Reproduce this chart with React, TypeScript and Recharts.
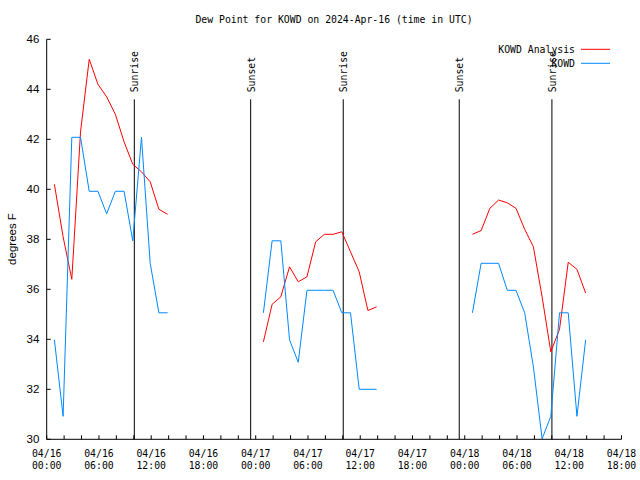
import React from 'react';
import { LineChart, Line, XAxis, YAxis, ReferenceLine, Legend } from 'recharts';

// observations come in at :53 past each hour (hours since 04/16 00:00 UTC)
const OBS_MINUTE = 53;

const hours1 = [0, 1, 2, 3, 4, 5, 6, 7, 8, 9, 10, 11, 12, 13];
const analysis1 = [40.2, 38.1, 36.4, 42.3, 45.2, 44.2, 43.7, 43.0, 41.9, 41.0, 40.7, 40.3, 39.2, 39.0];
const observed1 = [33.98, 30.92, 42.08, 42.08, 39.92, 39.92, 39.02, 39.92, 39.92, 37.94, 42.08, 37.04, 35.06, 35.06];

const hours2 = [24, 25, 26, 27, 28, 29, 30, 31, 32, 33, 34, 35, 36, 37];
const analysis2 = [33.9, 35.4, 35.7, 36.9, 36.3, 36.5, 37.9, 38.2, 38.2, 38.3, 37.5, 36.7, 35.15, 35.3];
const observed2 = [35.06, 37.94, 37.94, 33.98, 33.08, 35.96, 35.96, 35.96, 35.96, 35.06, 35.06, 32.0, 32.0, 32.0];

const hours3 = [48, 49, 50, 51, 52, 53, 54, 55, 56, 57, 58, 59, 60, 61];
const analysis3 = [38.2, 38.35, 39.24, 39.57, 39.46, 39.24, 38.4, 37.7, 35.7, 33.5, 34.4, 37.08, 36.8, 35.85];
const observed3 = [35.06, 37.04, 37.04, 37.04, 35.96, 35.96, 35.06, 32.9, 30.02, 30.92, 35.06, 35.06, 30.92, 33.98];

const sunEvents = [
  { hour: 10.06, label: 'Sunrise' },
  { hour: 23.42, label: 'Sunset' },
  { hour: 34.05, label: 'Sunrise' },
  { hour: 47.37, label: 'Sunset' },
  { hour: 58.01, label: 'Sunrise' },
];
const sunLineTop = 43.6;

const seriesNames = ['KOWD Analysis', 'KOWD'];

const xTicks = [0, 2, 4, 6, 8, 10, 12, 14, 16, 18, 20, 22, 24, 26, 28, 30, 32, 34, 36, 38, 40, 42, 44, 46, 48, 50, 52, 54, 56, 58, 60, 62, 64, 66];
const xTickLabels = [
  '04/16 00:00', '04/16 06:00', '04/16 12:00', '04/16 18:00',
  '04/17 00:00', '04/17 06:00', '04/17 12:00', '04/17 18:00',
  '04/18 00:00', '04/18 06:00', '04/18 12:00', '04/18 18:00',
];
const yTicks = [30, 32, 34, 36, 38, 40, 42, 44, 46];

const MONO = '"DejaVu Sans Mono", monospace';
const SANS = '"Liberation Sans", Arial, sans-serif';
const RED = '#ff0000';
const BLUE = '#0088ff';

type Row = { t: number; analysis: number | null; observed: number | null };

function segment(hours: number[], analysis: number[], observed: number[]): Row[] {
  return hours.map((h, i) => ({ t: h + OBS_MINUTE / 60, analysis: analysis[i], observed: observed[i] }));
}

const data: Row[] = [
  ...segment(hours1, analysis1, observed1),
  { t: 19, analysis: null, observed: null },
  ...segment(hours2, analysis2, observed2),
  { t: 43, analysis: null, observed: null },
  ...segment(hours3, analysis3, observed3),
];

function DateTick(props: any) {
  const { x, y, payload } = props;
  const idx = payload.value / 6;
  if (!Number.isInteger(idx) || !xTickLabels[idx]) return <g />;
  const [day, time] = xTickLabels[idx].split(' ');
  return (
    <text x={x} y={y} textAnchor="middle" fontFamily={MONO} fontSize={9.8} fill="#000">
      <tspan x={x} dy={13.7}>{day}</tspan>
      <tspan x={x} dy={12}>{time}</tspan>
    </text>
  );
}

const NoLabel = () => <g />;

function SunLabel(props: any) {
  const { viewBox, value } = props;
  const x = viewBox.x + 0.5;
  const y = viewBox.y - 7;
  return (
    <text
      transform={`translate(${x},${y}) rotate(-90)`}
      textAnchor="start"
      dominantBaseline="central"
      fontFamily={MONO}
      fontSize={9.8}
      fill="#000"
    >
      {value}
    </text>
  );
}

function LegendBox(props: any) {
  const items = [...(props.payload || [])].sort(
    (a: any, b: any) => seriesNames.indexOf(a.value) - seriesNames.indexOf(b.value)
  );
  return (
    <svg width={640} height={80} style={{ position: 'absolute', left: 0, top: 0 }}>
      {items.map((it: any, i: number) => (
        <g key={it.value}>
          <text x={575} y={49.3 + i * 14} textAnchor="end" dominantBaseline="central" fontFamily={MONO} fontSize={9.8} fill="#000">
            {it.value}
          </text>
          <line x1={581} x2={610} y1={49.3 + i * 14} y2={49.3 + i * 14} stroke={it.color} strokeWidth={1} />
        </g>
      ))}
    </svg>
  );
}

export default function App() {
  return (
    <div style={{ position: 'absolute', left: 0, top: 0, width: 640, height: 480, background: '#fff' }}>
      <LineChart width={640} height={480} data={data} margin={{ top: 39.3, right: 18.5, bottom: 0, left: 0 }}>
        <XAxis
          xAxisId="bottom"
          dataKey="t"
          type="number"
          domain={[0, 66]}
          ticks={xTicks}
          interval={0}
          height={40.7}
          tickSize={-4}
          tickMargin={8}
          axisLine={{ stroke: '#000' }}
          tickLine={{ stroke: '#000' }}
          tick={<DateTick />}
        />
        <XAxis
          xAxisId="top"
          orientation="top"
          dataKey="t"
          type="number"
          domain={[0, 66]}
          ticks={xTicks}
          interval={0}
          height={0}
          tickSize={-4}
          axisLine={{ stroke: '#000' }}
          tickLine={{ stroke: '#000' }}
          tick={<NoLabel />}
        />
        <YAxis
          yAxisId="left"
          domain={[30, 46]}
          ticks={yTicks}
          interval={0}
          width={46.7}
          tickSize={-4}
          tickMargin={11.4}
          axisLine={{ stroke: '#000' }}
          tickLine={{ stroke: '#000' }}
          tick={{ fill: '#000', fontSize: 11.5, fontFamily: SANS }}
        />
        <YAxis
          yAxisId="right"
          orientation="right"
          domain={[30, 46]}
          ticks={yTicks}
          interval={0}
          width={0}
          tickSize={-4}
          axisLine={{ stroke: '#000' }}
          tickLine={{ stroke: '#000' }}
          tick={<NoLabel />}
        />
        {sunEvents.map((s) => (
          <ReferenceLine
            key={s.hour}
            xAxisId="bottom"
            yAxisId="left"
            segment={[{ x: s.hour, y: 30 }, { x: s.hour, y: sunLineTop }]}
            stroke="#000"
            strokeWidth={1}
            label={<SunLabel value={s.label} />}
          />
        ))}
        <Line
          xAxisId="bottom"
          yAxisId="left"
          type="linear"
          dataKey="analysis"
          name="KOWD Analysis"
          stroke={RED}
          strokeWidth={1}
          dot={false}
          connectNulls={false}
          isAnimationActive={false}
        />
        <Line
          xAxisId="bottom"
          yAxisId="left"
          type="linear"
          dataKey="observed"
          name="KOWD"
          stroke={BLUE}
          strokeWidth={1}
          dot={false}
          connectNulls={false}
          isAnimationActive={false}
        />
        <Legend
          layout="horizontal"
          verticalAlign="middle"
          align="center"
          content={<LegendBox />}
          wrapperStyle={{ left: 0, top: 0, width: 640, height: 80 }}
        />
      </LineChart>
      <svg width={640} height={480} style={{ position: 'absolute', left: 0, top: 0, pointerEvents: 'none' }}>
        <text x={334} y={19.5} textAnchor="middle" dominantBaseline="central" fontFamily={MONO} fontSize={9.8} fill="#000">
          Dew Point for KOWD on 2024-Apr-16 (time in UTC)
        </text>
        <text
          transform="translate(12,239) rotate(-90)"
          textAnchor="middle"
          dominantBaseline="central"
          fontFamily={SANS}
          fontSize={11.5}
          fill="#000"
        >
          degrees F
        </text>
      </svg>
    </div>
  );
}
